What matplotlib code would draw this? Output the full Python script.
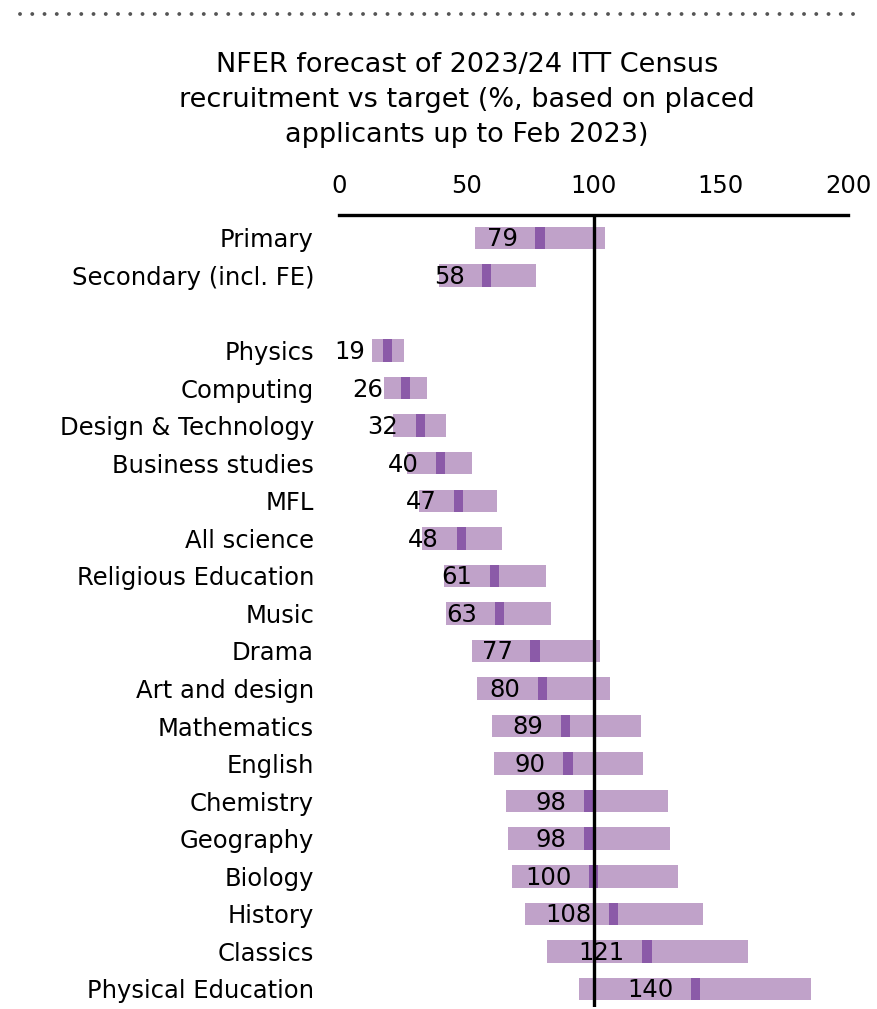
import matplotlib
matplotlib.use('Agg')
import matplotlib.pyplot as plt
from matplotlib.lines import Line2D
import numpy as np

plt.rcParams['font.family'] = ['DejaVu Sans']

subjects = ['Primary', 'Secondary (incl. FE)',
            'Physics', 'Computing', 'Design & Technology', 'Business studies',
            'MFL', 'All science', 'Religious Education', 'Music', 'Drama',
            'Art and design', 'Mathematics', 'English', 'Chemistry',
            'Geography', 'Biology', 'History', 'Classics', 'Physical Education']
forecast = [79, 58, 19, 26, 32, 40, 47, 48, 61, 63, 77, 80, 89, 90, 98, 98,
            100, 108, 121, 140]
low = [53.3, 39.2, 13.1, 17.7, 21.4, 26.7, 31.3, 32.6, 41.3, 42.1, 52.3, 54.3,
       60.3, 60.8, 65.8, 66.4, 67.9, 72.9, 81.9, 94.4]
high = [104.5, 77.5, 25.6, 34.6, 42.2, 52.3, 61.9, 64.2, 81.4, 83.4, 102.5,
        106.6, 118.5, 119.6, 129.1, 130.2, 133.2, 143.0, 160.7, 185.4]
# slot positions: gap between secondary and subject rows
rows = [0, 1] + list(range(3, 21))

light = '#c0a2c9'
dark = '#8b5aa8'
fs = 17.5

fig = plt.figure(figsize=(8.77, 10.09), dpi=100)
ax = fig.add_axes([339 / 877, 2 / 1009, 509 / 877, 792 / 1009])

low = np.array(low)
high = np.array(high)
forecast = np.array(forecast)
h = 0.6
ax.barh(rows, high - low, left=low, height=h, color=light, zorder=1)
ax.barh(rows, 3.6, left=forecast - 1.8, height=h, color=dark, zorder=2)
ax.axvline(100, color='black', lw=2.4, zorder=3)

for r, v in zip(rows, forecast):
    ax.annotate(str(v), (v, r), xytext=(-16, -1), textcoords='offset points',
                ha='right', va='center', fontsize=fs, zorder=4)

ax.set_xlim(0, 200)
ax.set_ylim(20.48, -0.61)
ax.xaxis.tick_top()
ax.set_xticks([0, 50, 100, 150, 200])
ax.tick_params(axis='x', length=0, pad=12, labelsize=fs)
ax.set_yticks(rows)
ax.set_yticklabels(subjects)
ax.tick_params(axis='y', length=0, pad=18, labelsize=fs)
for s in ['left', 'right', 'bottom']:
    ax.spines[s].set_visible(False)
ax.spines['top'].set_linewidth(2.4)

fig.text(467 / 877, 1 - 100 / 1009,
         'NFER forecast of 2023/24 ITT Census\nrecruitment vs target (%, based on placed\napplicants up to Feb 2023)',
         ha='center', va='center', fontsize=19.5, linespacing=1.45)

# dotted rule along the top
fig.add_artist(Line2D([20 / 877, 863 / 877], [1 - 13.5 / 1009] * 2,
                      transform=fig.transFigure, color='#555555', lw=2.8,
                      linestyle=(0, (0.01, 3.14)), dash_capstyle='round'))

fig.savefig('out.png', dpi=100)
